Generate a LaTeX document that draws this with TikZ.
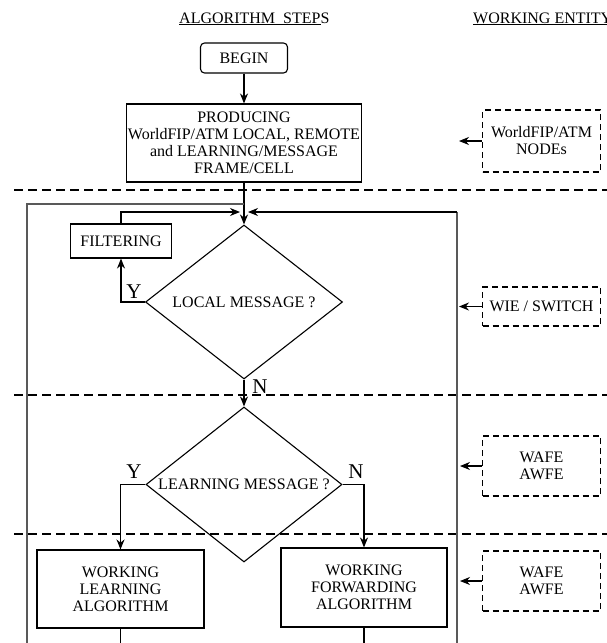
\documentclass[tikz,border=0pt]{standalone}
\usepackage{fontspec}
\setmainfont{Liberation Serif}
\usetikzlibrary{arrows.meta, shapes.geometric}
\tikzset{
  % a step of the algorithm
  stepbox/.style = {draw, line width=1.1pt, align=center, inner sep=0pt},
  % the start terminal
  term/.style    = {stepbox, rounded corners=4pt},
  % a decision
  dec/.style     = {draw, diamond, aspect=1.27, line width=1.1pt, inner sep=0pt},
  % a working entity
  ent/.style     = {draw, dash pattern=on 6pt off 4pt, line width=1.1pt,
                    align=center, inner sep=0pt, minimum width=118pt},
  % a flow arrow
  tr/.style      = {-{Stealth[length=10pt,width=8pt]}, line width=1.1pt},
  % the feedback loops
  fb/.style      = {line width=1.4pt, draw=black!65},
  % a Y / N label
  yn/.style      = {font=\fontsize{21}{21}\selectfont, inner sep=0pt},
  % the lane separators
  lane/.style    = {dash pattern=on 9pt off 5pt, line width=1.1pt},
}

\begin{document}
\begin{tikzpicture}[x=1pt, y=-1pt, font=\fontsize{16}{17}\selectfont]
  \useasboundingbox (0,0) rectangle (607,643);
  % --- headings ---
  \node[anchor=base west, inner sep=0pt] (hsteps) at (179,23) {\underline{ALGORITHM\ \ STEP}S};
  \node[anchor=base west, inner sep=0pt] (hent)   at (473,23) {\underline{WORKING ENTITY}};
  % --- lanes ---
  \draw[lane] (14,190) -- (607,190);
  \draw[lane] (14,395) -- (607,395);
  \draw[lane] (14,534) -- (607,534);
  % --- steps ---
  \node[term, minimum width=87pt, minimum height=30pt] (begin) at (244,58) {BEGIN};
  \node[stepbox, minimum width=235pt, minimum height=78pt] (prod) at (244,143)
    {PRODUCING\\WorldFIP/ATM LOCAL, REMOTE\\and LEARNING/MESSAGE\\FRAME/CELL};
  \node[stepbox, minimum width=101pt, minimum height=34pt] (filt) at (121,241) {FILTERING};
  \node[dec, minimum width=197pt, minimum height=154pt] (loc) at (244,302) {LOCAL MESSAGE ?};
  \node[dec, minimum width=196pt, minimum height=155pt] (lrn) at (244,484.5) {LEARNING MESSAGE ?};
  \node[stepbox, minimum width=167pt, minimum height=78pt] (wla) at (120.5,589)
    {WORKING\\LEARNING\\ALGORITHM};
  \node[stepbox, minimum width=166pt, minimum height=79pt] (wfa) at (364,587.5)
    {WORKING\\FORWARDING\\ALGORITHM};
  % --- entities ---
  \node[ent, minimum height=62pt] (nodes) at (541.5,141)   {WorldFIP/ATM\\NODEs};
  \node[ent, minimum height=39pt] (wie)   at (541.5,306.5) {WIE / SWITCH};
  \node[ent, minimum height=60pt] (wafe1) at (541.5,466)   {WAFE\\AWFE};
  \node[ent, minimum height=60pt] (wafe2) at (541.5,581)   {WAFE\\AWFE};
  % --- loop ends ---
  \coordinate (lbot)  at (27,643);
  \coordinate (ljoin) at (244,204);
  \coordinate (rbot)  at (457,643);
  \coordinate (rtop)  at (457,212);
  \coordinate (rin)   at (248,212);
  \coordinate (fin)   at (240,212);
  \coordinate (wlae)  at (120.5,643);
  \coordinate (wfae)  at (364,643);
  \coordinate (e1) at (459,141);
  \coordinate (e2) at (459,306.5);
  \coordinate (e3) at (460,466);
  \coordinate (e4) at (460,581);
  % --- flow ---
  \draw[tr] (begin) -- (prod);
  \draw[tr] (prod.south) -- (loc.north);
  \draw[fb] (lbot) |- (ljoin);
  \draw[fb] (rbot) -- (rtop);
  \draw[tr] (rtop) -- (rin);
  \draw[tr] (filt.north) |- (fin);
  \draw[tr] (loc.west) -| (filt.south);
  \draw[tr] (loc.south) -- (lrn.north);
  \draw[tr] (lrn.west) -| (wla.north);
  \draw[tr] (lrn.east) -| (wfa.north);
  \draw[line width=1.1pt] (wla.south) -- (wlae);
  \draw[line width=1.1pt] (wfa.south) -- (wfae);
  \node[yn] (y1) at (134,292) {Y};
  \node[yn] (n1) at (260,387) {N};
  \node[yn] (y2) at (134,472) {Y};
  \node[yn] (n2) at (356,472) {N};
  % --- entities to their lanes ---
  \draw[tr] (nodes.west) -- (e1);
  \draw[tr] (wie.west)   -- (e2);
  \draw[tr] (wafe1.west) -- (e3);
  \draw[tr] (wafe2.west) -- (e4);
\end{tikzpicture}
\end{document}
